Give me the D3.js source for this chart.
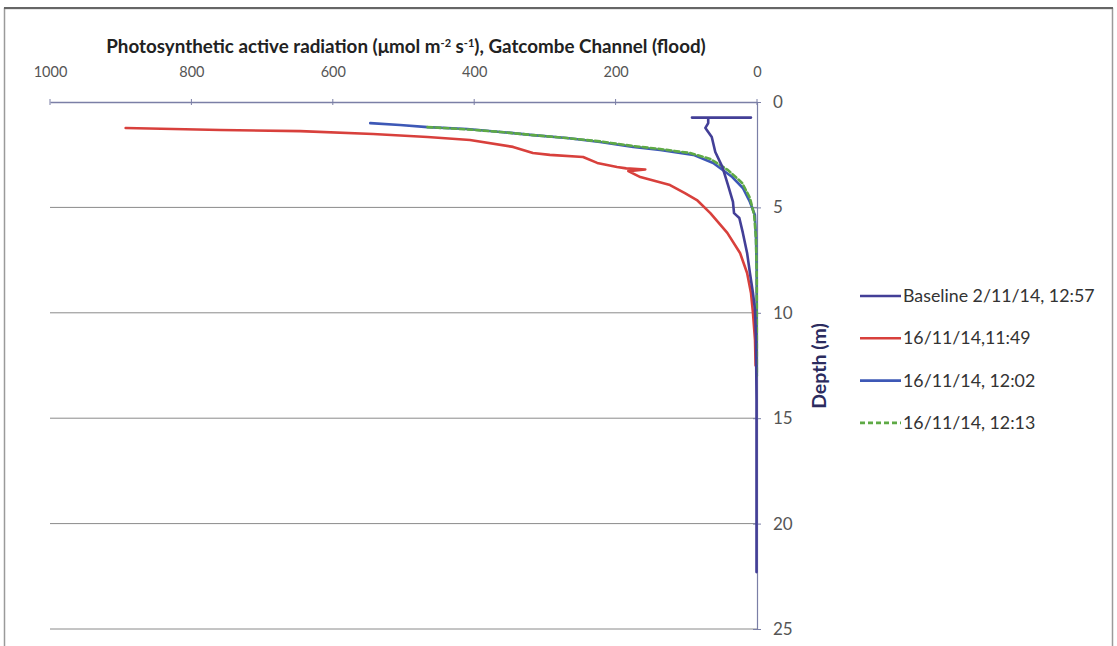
<!DOCTYPE html>
<html><head><meta charset="utf-8">
<script src="https://cdn.jsdelivr.net/npm/d3@7"></script>
<style>body{margin:0;background:#fff;} svg{display:block;}</style>
</head><body>
<svg id="c" width="1117" height="646"></svg>
<script>
const parTicks = [1000, 800, 600, 400, 200, 0];
const depthTicks = [0, 5, 10, 15, 20, 25];
const seriesNames = ["Baseline 2/11/14, 12:57", "16/11/14,11:49", "16/11/14, 12:02", "16/11/14, 12:13"];

const baselinePar   = [69, 8.5, 92, 69, 69, 73, 64, 59, 49, 41, 34, 32.5, 25, 20, 14, 10, 5.7, 2.8, 1.4, 0.7, 0.7];
const baselineDepth = [0.74, 0.74, 0.74, 0.74, 1.0, 1.23, 1.66, 2.37, 3.08, 3.94, 4.74, 5.27, 5.5, 6.21, 7.16, 8.11, 9.06, 9.87, 11.3, 14.1, 22.3];

const redPar   = [893, 759, 646, 543, 466, 406, 345, 317, 293, 246, 226, 198, 185, 158, 182, 165, 144, 123, 102, 85, 66, 42, 24, 14, 8.5, 5.7, 2.8, 2];
const redDepth = [1.23, 1.33, 1.38, 1.52, 1.66, 1.80, 2.13, 2.42, 2.51, 2.61, 2.89, 3.08, 3.15, 3.2, 3.28, 3.56, 3.75, 3.94, 4.32, 4.65, 5.27, 6.21, 7.16, 8.11, 9.06, 10.0, 11.3, 12.5];

const bluePar   = [547, 505, 466, 410, 363, 317, 269, 222, 175, 137, 90, 62, 35, 20, 10, 3, 1.4, 0.5, 0.3];
const blueDepth = [1.0, 1.09, 1.19, 1.28, 1.42, 1.57, 1.71, 1.90, 2.13, 2.28, 2.51, 2.89, 3.56, 4.08, 4.74, 5.36, 6.5, 8.0, 13.0];

const greenPar   = [466, 410, 363, 317, 269, 222, 175, 137, 95, 66, 41, 21, 10, 4, 1.4, 0.3, 0.3];
const greenDepth = [1.19, 1.30, 1.42, 1.57, 1.71, 1.87, 2.09, 2.23, 2.42, 2.70, 3.23, 3.84, 4.55, 5.36, 6.5, 8.4, 13.0];

const colors = ["#433f97", "#d8403c", "#3d58b6", "#5eaa45"];
const dashes = [null, null, null, "5,3"];
const FONT = "Lato, 'Open Sans', sans-serif";

const svg = d3.select("#c");
const x = d3.scaleLinear().domain([1000, 0]).range([50, 757]);
const y = d3.scaleLinear().domain([0, 25]).range([102, 629]);

// frame
svg.append("rect").attr("x", 4.5).attr("y", 8.5).attr("width", 1108).attr("height", 650)
  .attr("fill", "none").attr("stroke", "#9a9a9a").attr("stroke-width", 1.5);
svg.append("line").attr("x1", 4).attr("x2", 1113).attr("y1", 8).attr("y2", 8)
  .attr("stroke", "#666").attr("stroke-width", 2);

// gridlines
svg.append("g").selectAll("line").data(depthTicks.filter(d => d > 0)).join("line")
  .attr("x1", x(1000)).attr("x2", x(0)).attr("y1", d => y(d)).attr("y2", d => y(d))
  .attr("stroke", "#8a8a8a").attr("stroke-width", 1);

// top axis
const xAxis = d3.axisTop(x).tickValues(parTicks).tickSize(0).tickPadding(25).tickFormat(d3.format("d"));
const gx = svg.append("g").attr("transform", `translate(0,${y(0)})`).call(xAxis);
gx.select(".domain").attr("stroke", "#7b7fa6").attr("stroke-width", 1.5);
gx.selectAll("text").attr("font-family", FONT).attr("font-size", 14.5).attr("fill", "#555");
svg.append("g").selectAll("line").data(parTicks).join("line")
  .attr("x1", d => x(d)).attr("x2", d => x(d)).attr("y1", y(0) - 3).attr("y2", y(0) + 3)
  .attr("stroke", "#7b7fa6");

// right axis
const yAxis = d3.axisRight(y).tickValues(depthTicks).tickSize(4).tickPadding(12).tickFormat(d3.format("d"));
const gy = svg.append("g").attr("transform", `translate(${x(0)},0)`).call(yAxis);
gy.select(".domain").attr("stroke", "#7b7fa6").attr("stroke-width", 1.2);
gy.selectAll(".tick line").attr("stroke", "#7b7fa6").attr("x1", -4);
gy.selectAll("text").attr("font-family", FONT).attr("font-size", 17).attr("fill", "#555");

// title
const t = svg.append("text").attr("x", 406).attr("y", 53).attr("text-anchor", "middle")
  .attr("font-family", FONT).attr("font-weight", "bold").attr("font-size", 18.8).attr("fill", "#222");
t.append("tspan").text("Photosynthetic active radiation (μmol m");
t.append("tspan").attr("dy", -6).attr("font-size", 11).text("-2");
t.append("tspan").attr("dy", 6).text(" s");
t.append("tspan").attr("dy", -6).attr("font-size", 11).text("-1");
t.append("tspan").attr("dy", 6).text("), Gatcombe Channel (flood)");

// depth label
svg.append("text").attr("transform", "translate(826,366) rotate(-90)").attr("text-anchor", "middle")
  .attr("font-family", FONT).attr("font-weight", "bold").attr("font-size", 19.5)
  .attr("fill", "#2b2b5e").text("Depth (m)");

// series
const series = [
  {par: baselinePar, depth: baselineDepth},
  {par: redPar, depth: redDepth},
  {par: bluePar, depth: blueDepth},
  {par: greenPar, depth: greenDepth}
];
const line = d3.line().x(d => x(d[0])).y(d => y(d[1])).curve(d3.curveLinear);
const drawOrder = [1, 2, 3, 0];
drawOrder.forEach(i => {
  const s = series[i];
  svg.append("path").datum(s.par.map((p, k) => [p, s.depth[k]]))
    .attr("d", line).attr("fill", "none").attr("stroke", colors[i])
    .attr("stroke-width", 2.6).attr("stroke-linejoin", "round").attr("stroke-linecap", "round")
    .attr("stroke-dasharray", dashes[i]);
});

// legend
const lg = svg.append("g");
seriesNames.forEach((n, i) => {
  const yy = 296 + i * 42.3;
  lg.append("line").attr("x1", 860).attr("x2", 901).attr("y1", yy).attr("y2", yy)
    .attr("stroke", colors[i]).attr("stroke-width", 2.6).attr("stroke-dasharray", dashes[i]);
  lg.append("text").attr("x", 903).attr("y", yy + 6).attr("font-family", FONT)
    .attr("font-size", 17.8).attr("fill", "#333").text(n);
});
</script>
</body></html>
